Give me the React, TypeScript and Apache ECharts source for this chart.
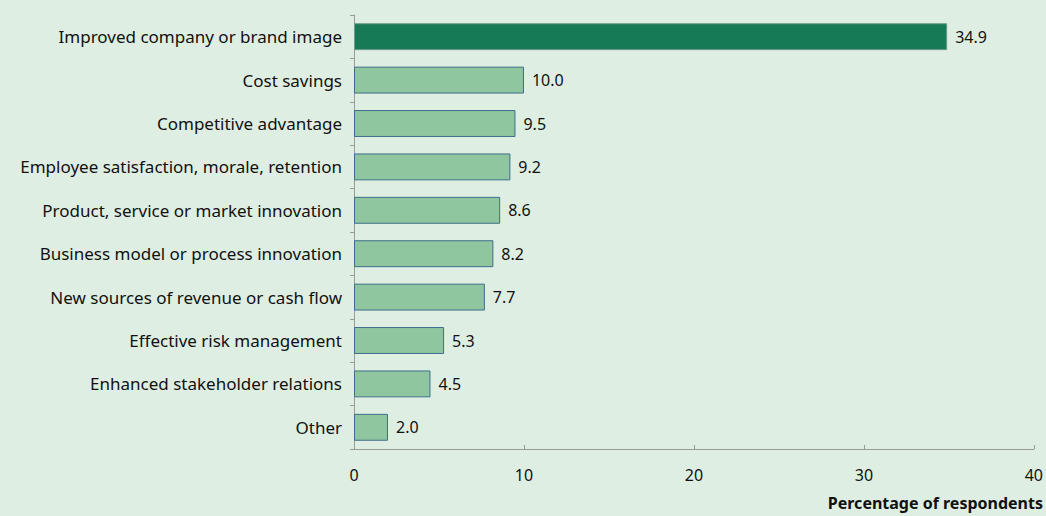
import React, { useEffect, useRef } from "react";
import * as echarts from "echarts";

const categories = [
  "Improved company or brand image",
  "Cost savings",
  "Competitive advantage",
  "Employee satisfaction, morale, retention",
  "Product, service or market innovation",
  "Business model or process innovation",
  "New sources of revenue or cash flow",
  "Effective risk management",
  "Enhanced stakeholder relations",
  "Other",
];
const values = [34.9, 10.0, 9.5, 9.2, 8.6, 8.2, 7.7, 5.3, 4.5, 2.0];
const xTicks = [0, 10, 20, 30, 40];
const axisTitle = "Percentage of respondents";

const FONT = "'Noto Sans', sans-serif";

export default function App() {
  const ref = useRef<HTMLDivElement>(null);
  useEffect(() => {
    if (!ref.current) return;
    const chart = echarts.init(ref.current, undefined, { renderer: "svg" });
    chart.setOption({
      animation: false,
      backgroundColor: "#dfeee2",
      textStyle: { fontFamily: FONT },
      grid: { left: 354, right: 9, top: 15, bottom: 67, containLabel: false },
      xAxis: {
        type: "value",
        min: xTicks[0],
        max: xTicks[xTicks.length - 1],
        interval: 10,
        splitLine: { show: false },
        axisLine: { show: true, lineStyle: { color: "#9a9a9a", width: 1 } },
        axisTick: { show: true, inside: true, length: 4, lineStyle: { color: "#9a9a9a" } },
        axisLabel: { fontSize: 16, color: "#111", margin: 18, fontFamily: FONT },
      },
      yAxis: {
        type: "category",
        data: categories,
        inverse: true,
        axisLine: { show: true, lineStyle: { color: "#9a9a9a", width: 1 } },
        axisTick: { show: true, length: 4, lineStyle: { color: "#9a9a9a" } },
        axisLabel: { fontSize: 17, color: "#111", margin: 12, fontFamily: FONT },
      },
      graphic: [
        {
          type: "text",
          right: 3,
          top: 495,
          style: {
            text: axisTitle,
            font: `bold 16px ${FONT}`,
            fill: "#111",
          },
        },
      ],
      series: [
        {
          type: "bar",
          barCategoryGap: "38%",
          data: values.map((v, i) => ({
            value: v,
            itemStyle:
              i === 0
                ? { color: "#177a56", borderColor: "#6f9a8c", borderWidth: 1 }
                : { color: "#8fc6a0", borderColor: "#3d6e8c", borderWidth: 1 },
          })),
          label: {
            show: true,
            position: "right",
            distance: 8,
            fontSize: 16,
            color: "#111",
            fontFamily: FONT,
            formatter: (p: any) => Number(p.value).toFixed(1),
          },
        },
      ],
    });
    return () => chart.dispose();
  }, []);
  return (
    <div
      ref={ref}
      style={{ position: "fixed", left: 0, top: 0, width: 1046, height: 516 }}
    />
  );
}
